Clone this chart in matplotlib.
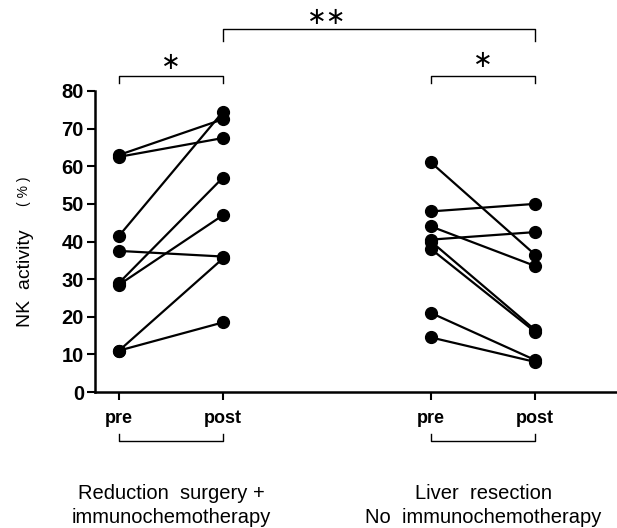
import matplotlib
matplotlib.use("Agg")
import matplotlib.pyplot as plt

# ---- data ----
positions = [0, 1, 3, 4]
tick_labels = ["pre", "post", "pre", "post"]
g1_pre = [63, 62.5, 41.5, 37.5, 29, 28.5, 11, 11]
g1_post = [72.5, 67.5, 74.5, 36, 57, 47, 35.5, 18.5]
g2_pre = [61, 48, 44, 40.5, 40, 38, 21, 14.5]
g2_post = [36.5, 50, 33.5, 42.5, 16.5, 16, 8.5, 8]
group_labels = [("Reduction  surgery +", "immunochemotherapy"),
                ("Liver  resection", "No  immunochemotherapy")]
yticks = [0, 10, 20, 30, 40, 50, 60, 70, 80]

plt.rcParams['font.family'] = ['Liberation Sans', 'DejaVu Sans']

fig = plt.figure(figsize=(6.17, 5.28), dpi=100)
W, H = 617, 528
ax = fig.add_axes([95 / W, (H - 392) / H, (W - 95) / W, (392 - 91) / H])

for a, b in zip(g1_pre, g1_post):
    ax.plot([positions[0], positions[1]], [a, b], color='black', lw=1.6,
            marker='o', ms=8.5, clip_on=False, zorder=3)
for a, b in zip(g2_pre, g2_post):
    ax.plot([positions[2], positions[3]], [a, b], color='black', lw=1.6,
            marker='o', ms=8.5, clip_on=False, zorder=3)

ax.set_xlim(-0.2308, 4.788)
ax.set_ylim(0, 80)
ax.spines['top'].set_visible(False)
ax.spines['right'].set_visible(False)
ax.spines['left'].set_linewidth(1.8)
ax.spines['bottom'].set_linewidth(1.8)

ax.set_yticks(yticks)
ax.set_yticklabels([str(v) for v in yticks], fontsize=14.5, fontweight='bold')
ax.set_xticks(positions)
ax.set_xticklabels(tick_labels, fontsize=13, fontweight='bold')
ax.tick_params(axis='y', direction='out', length=6, width=1.5, pad=2)
ax.tick_params(axis='x', direction='out', length=6, width=1.5, pad=7)

# y axis label (rotated), "(%)" smaller as in the original
fig.text(25 / W, 1 - 278 / H, "NK  activity", rotation=90, fontsize=14,
         ha='center', va='center')
fig.text(24 / W, 1 - 191 / H, "( % )", rotation=90, fontsize=10,
         ha='center', va='center')

k = dict(color='black', lw=1.0, clip_on=False)
# bottom brackets under pre/post
for x0, x1 in [(positions[0], positions[1]), (positions[2], positions[3])]:
    ax.plot([x0, x0, x1, x1], [-11.2, -13.0, -13.0, -11.2], **k)

# top significance brackets
ax.plot([0, 0, 1, 1], [82.0, 84.1, 84.1, 82.0], **k)
ax.plot([3, 3, 4, 4], [82.0, 84.1, 84.1, 82.0], **k)
ax.plot([1, 1, 4, 4], [93.4, 96.4, 96.4, 93.4], **k)
ax.text(0.5, 87.8, "∗", ha='center', va='center', fontsize=17,
        family='DejaVu Sans')
ax.text(3.5, 88.2, "∗", ha='center', va='center', fontsize=17,
        family='DejaVu Sans')
ax.text(2.0, 99.8, "∗∗", ha='center', va='center', fontsize=17,
        family='DejaVu Sans')

# group labels
for cx, (l1, l2) in zip([0.5, 3.5], group_labels):
    ax.text(cx, -27.0, l1, ha='center', va='center', fontsize=14.5)
    ax.text(cx, -33.4, l2, ha='center', va='center', fontsize=14.5)

fig.savefig("out.png", dpi=100)
